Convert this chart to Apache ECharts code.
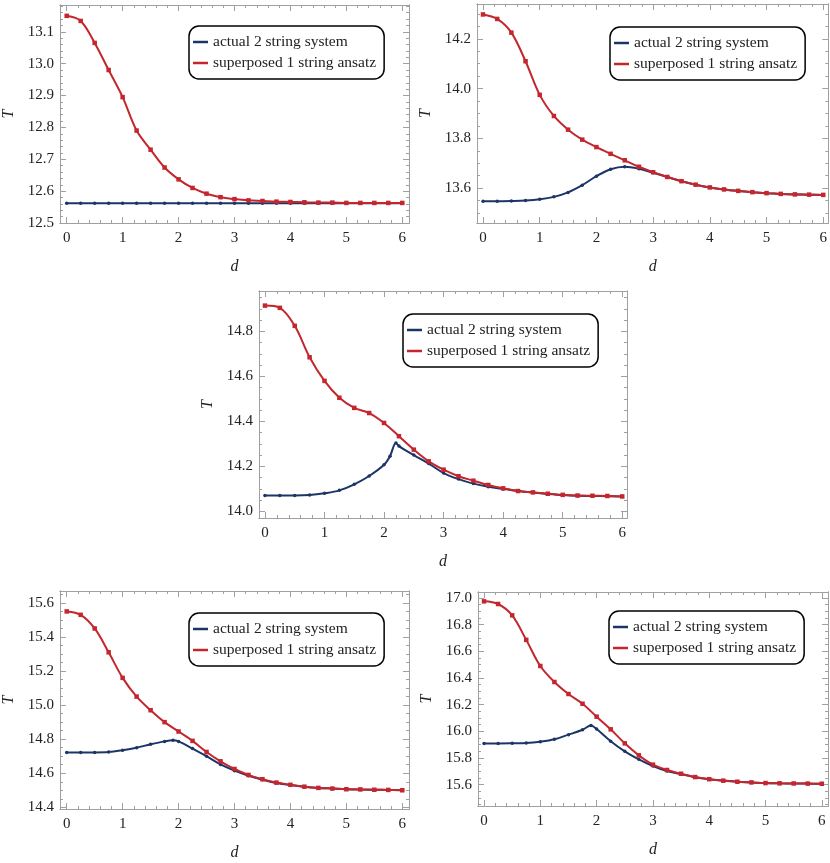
<!DOCTYPE html>
<html>
<head>
<meta charset="utf-8">
<script src="https://cdn.jsdelivr.net/npm/echarts@6/dist/echarts.min.js"></script>
<style>
  html, body { margin: 0; padding: 0; background: #fff; }
  #main { width: 830px; height: 863px; }
</style>
</head>
<body>
<div id="main"></div>
<script>
// shared d grid
var d = [0, 0.25, 0.5, 0.75, 1, 1.25, 1.5, 1.75, 2, 2.25, 2.5, 2.75, 3, 3.25, 3.5, 3.75, 4, 4.25, 4.5, 4.75, 5, 5.25, 5.5, 5.75, 6];
var d3Blue = [0, 0.25, 0.5, 0.75, 1, 1.25, 1.5, 1.75, 2, 2.1, 2.2, 2.25, 2.5, 2.75, 3, 3.25, 3.5, 3.75, 4, 4.25, 4.5, 4.75, 5, 5.25, 5.5, 5.75, 6];
var d45Blue = [0, 0.25, 0.5, 0.75, 1, 1.25, 1.5, 1.75, 1.9, 2, 2.25, 2.5, 2.75, 3, 3.25, 3.5, 3.75, 4, 4.25, 4.5, 4.75, 5, 5.25, 5.5, 5.75, 6];

var xTicks = [0, 1, 2, 3, 4, 5, 6];

// panel 1
var p1Blue = [12.562, 12.562, 12.562, 12.562, 12.562, 12.562, 12.562, 12.562, 12.562, 12.562, 12.562, 12.562, 12.562, 12.562, 12.562, 12.562, 12.562, 12.562, 12.562, 12.562, 12.562, 12.562, 12.562, 12.562, 12.562];
var p1Red = [13.15, 13.134, 13.065, 12.98, 12.895, 12.79, 12.73, 12.674, 12.637, 12.61, 12.592, 12.581, 12.575, 12.571, 12.569, 12.567, 12.566, 12.565, 12.564, 12.564, 12.563, 12.563, 12.563, 12.563, 12.563];
var p1YTicks = [12.5, 12.6, 12.7, 12.8, 12.9, 13.0, 13.1];

// panel 2
var p2Blue = [13.547, 13.547, 13.548, 13.55, 13.555, 13.565, 13.583, 13.612, 13.648, 13.676, 13.686, 13.678, 13.662, 13.645, 13.628, 13.614, 13.603, 13.595, 13.589, 13.584, 13.58, 13.577, 13.575, 13.574, 13.573];
var p2Red = [14.298, 14.28, 14.225, 14.11, 13.975, 13.89, 13.835, 13.795, 13.765, 13.738, 13.712, 13.686, 13.664, 13.645, 13.628, 13.614, 13.603, 13.595, 13.589, 13.584, 13.58, 13.577, 13.575, 13.574, 13.573];
var p2YTicks = [13.6, 13.8, 14.0, 14.2];

// panel 3
var p3Blue = [14.07, 14.07, 14.07, 14.072, 14.08, 14.093, 14.12, 14.157, 14.207, 14.245, 14.304, 14.29, 14.25, 14.212, 14.17, 14.143, 14.123, 14.109, 14.099, 14.09, 14.083, 14.077, 14.072, 14.069, 14.068, 14.067, 14.066];
var p3Red = [14.915, 14.905, 14.825, 14.685, 14.58, 14.505, 14.46, 14.437, 14.393, 14.334, 14.274, 14.222, 14.185, 14.156, 14.136, 14.117, 14.102, 14.09, 14.084, 14.078, 14.073, 14.07, 14.069, 14.068, 14.066];
var p3YTicks = [14.0, 14.2, 14.4, 14.6, 14.8];

// panel 4
var p4Blue = [14.722, 14.722, 14.722, 14.724, 14.735, 14.75, 14.77, 14.787, 14.793, 14.787, 14.745, 14.7, 14.652, 14.615, 14.585, 14.562, 14.543, 14.531, 14.52, 14.514, 14.51, 14.506, 14.504, 14.503, 14.502, 14.5];
var p4Red = [15.55, 15.53, 15.45, 15.31, 15.16, 15.05, 14.97, 14.9, 14.845, 14.79, 14.725, 14.67, 14.625, 14.59, 14.565, 14.545, 14.532, 14.521, 14.514, 14.51, 14.506, 14.505, 14.503, 14.502, 14.5];
var p4YTicks = [14.4, 14.6, 14.8, 15.0, 15.2, 15.4, 15.6];

// panel 5
var p5Blue = [15.909, 15.909, 15.91, 15.912, 15.922, 15.94, 15.975, 16.012, 16.044, 16.017, 15.926, 15.85, 15.79, 15.74, 15.703, 15.679, 15.656, 15.641, 15.631, 15.622, 15.617, 15.612, 15.61, 15.609, 15.608, 15.607];
var p5Red = [16.975, 16.955, 16.87, 16.686, 16.49, 16.37, 16.28, 16.207, 16.11, 16.015, 15.91, 15.82, 15.75, 15.71, 15.682, 15.657, 15.641, 15.63, 15.622, 15.617, 15.612, 15.61, 15.609, 15.608, 15.607];
var p5YTicks = [15.6, 15.8, 16.0, 16.2, 16.4, 16.6, 16.8, 17.0];

var BLUE = '#1d3566';
var RED = '#c4262e';
var FONT = 'Liberation Serif';

var panels = [
  { left: 56, top: 5, width: 353, height: 218, xMin: -0.12, xMax: 6.12, yMin: 12.5, yMax: 13.184, yTicks: p1YTicks, yMinor: 0.02,
    dB: d, blue: p1Blue, red: p1Red, legend: { left: 189, top: 26 } },
  { left: 477, top: 4, width: 352, height: 219, xMin: -0.106, xMax: 6.09, yMin: 13.46, yMax: 14.34, yTicks: p2YTicks, yMinor: 0.05,
    dB: d, blue: p2Blue, red: p2Red, legend: { left: 610, top: 27 } },
  { left: 259, top: 291, width: 368, height: 227, xMin: -0.1, xMax: 6.08, yMin: 13.97, yMax: 14.98, yTicks: p3YTicks, yMinor: 0.05,
    dB: d3Blue, blue: p3Blue, red: p3Red, legend: { left: 403, top: 314 } },
  { left: 56, top: 591, width: 353, height: 218, xMin: -0.12, xMax: 6.12, yMin: 14.39, yMax: 15.67, yTicks: p4YTicks, yMinor: 0.05,
    dB: d45Blue, blue: p4Blue, red: p4Red, legend: { left: 189, top: 613 } },
  { left: 478, top: 592, width: 350, height: 214, xMin: -0.107, xMax: 6.11, yMin: 15.44, yMax: 17.045, yTicks: p5YTicks, yMinor: 0.05,
    dB: d45Blue, blue: p5Blue, red: p5Red, legend: { left: 609, top: 611 } }
];

function steps(min, max, step) {
  var out = [];
  var start = Math.ceil(min / step - 1e-9);
  for (var i = start; i * step <= max + 1e-9; i++) out.push(+(i * step).toFixed(4));
  return out;
}

var option = { animation: false, grid: [], xAxis: [], yAxis: [], series: [], legend: [] };

panels.forEach(function (p, gi) {
  option.grid.push({ left: p.left, top: p.top, width: p.width, height: p.height, show: false });
  var xMinor = steps(0, 6, 0.2);
  var yMinor = steps(p.yMin, p.yMax, p.yMinor);
  var lineStyle = { color: '#a0a0a0', width: 1 };
  function ax(pos, vals, len, labels, extra) {
    var a = {
      type: 'value', gridIndex: gi, position: pos,
      axisLine: { show: true, onZero: false, lineStyle: lineStyle },
      axisTick: { show: true, inside: true, length: len, customValues: vals, lineStyle: lineStyle },
      axisLabel: labels ? labels : { show: false },
      splitLine: { show: false }
    };
    return Object.assign(a, extra);
  }
  var xb = option.xAxis.length;
  option.xAxis.push(ax('bottom', xTicks, 6, {
    show: true, customValues: xTicks, color: '#222', fontFamily: FONT, fontSize: 15, margin: 8
  }, { min: p.xMin, max: p.xMax, name: 'd', nameLocation: 'middle', nameGap: 36,
       nameTextStyle: { fontFamily: FONT, fontStyle: 'italic', fontSize: 16, color: '#222' } }));
  option.xAxis.push(ax('bottom', xMinor, 3, null, { min: p.xMin, max: p.xMax }));
  option.xAxis.push(ax('top', xTicks, 6, null, { min: p.xMin, max: p.xMax }));
  option.xAxis.push(ax('top', xMinor, 3, null, { min: p.xMin, max: p.xMax }));
  var yb = option.yAxis.length;
  option.yAxis.push(ax('left', p.yTicks, 6, {
    show: true, customValues: p.yTicks, color: '#222', fontFamily: FONT, fontSize: 15, margin: 6,
    formatter: function (v) { return v.toFixed(1); }
  }, { min: p.yMin, max: p.yMax, name: 'T', nameLocation: 'middle', nameGap: 43,
       nameTextStyle: { fontFamily: FONT, fontStyle: 'italic', fontSize: 16, color: '#222' } }));
  option.yAxis.push(ax('left', yMinor, 3, null, { min: p.yMin, max: p.yMax }));
  option.yAxis.push(ax('right', p.yTicks, 6, null, { min: p.yMin, max: p.yMax }));
  option.yAxis.push(ax('right', yMinor, 3, null, { min: p.yMin, max: p.yMax }));

  option.series.push({
    name: 'actual 2 string system', type: 'line', xAxisIndex: xb, yAxisIndex: yb,
    data: p.dB.map(function (x, i) { return [x, p.blue[i]]; }),
    smooth: 0.35, symbol: 'circle', symbolSize: 3.5,
    itemStyle: { color: BLUE }, lineStyle: { color: BLUE, width: 2 }
  });
  option.series.push({
    name: 'superposed 1 string ansatz', type: 'line', xAxisIndex: xb, yAxisIndex: yb,
    data: d.map(function (x, i) { return [x, p.red[i]]; }),
    smooth: 0.35, symbol: 'rect', symbolSize: 4.5,
    itemStyle: { color: RED }, lineStyle: { color: RED, width: 2 }
  });
  option.legend.push({
    left: p.legend.left, top: p.legend.top, orient: 'vertical',
    data: ['actual 2 string system', 'superposed 1 string ansatz'],
    icon: 'rect', itemWidth: 15, itemHeight: 2.5, itemGap: 5,
    padding: [8, 8, 8, 4], borderColor: '#000', borderWidth: 1.5, borderRadius: 10,
    backgroundColor: '#fff', selectedMode: false,
    textStyle: { fontFamily: FONT, fontSize: 15.5, color: '#222' }
  });
});

var chart = echarts.init(document.getElementById('main'));
chart.setOption(option);
</script>
</body>
</html>
